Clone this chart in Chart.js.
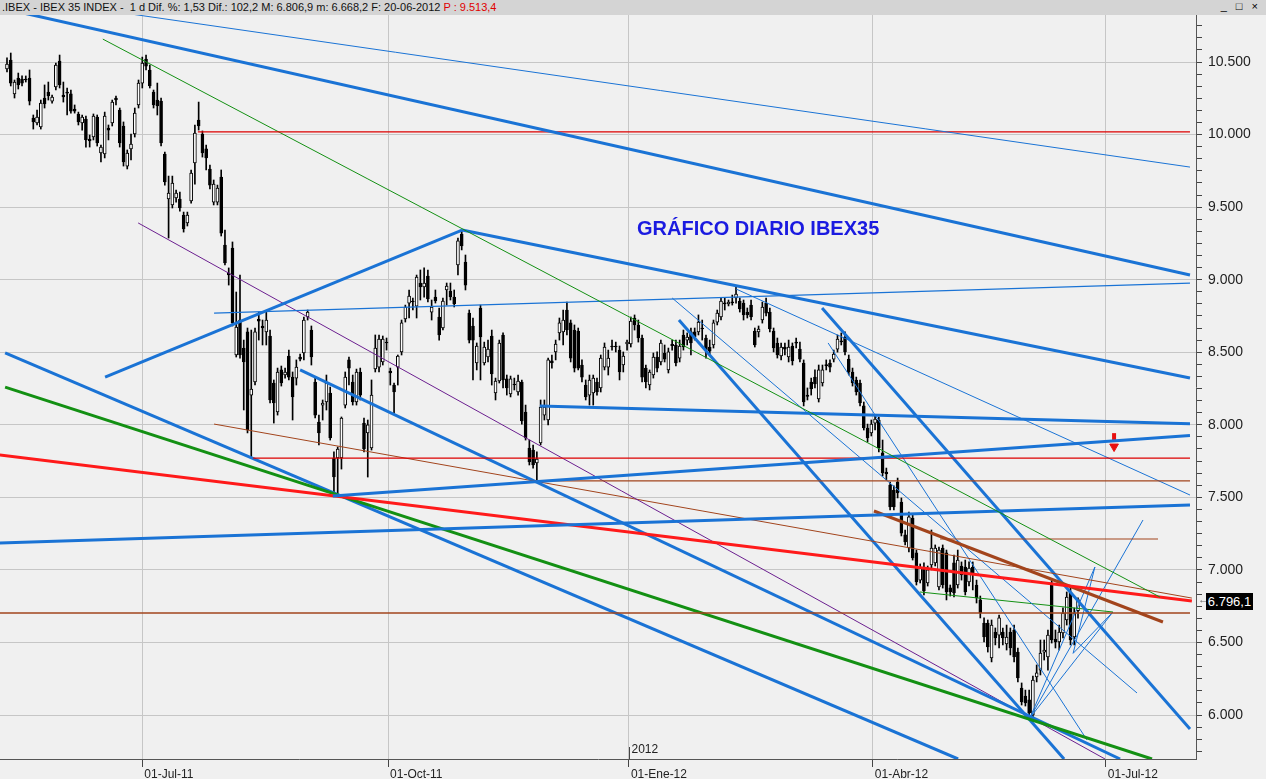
<!DOCTYPE html>
<html>
<head>
<meta charset="utf-8">
<script src="https://cdn.jsdelivr.net/npm/chart.js@4.4.1/dist/chart.umd.min.js"></script>
<style>
  html, body { margin: 0; padding: 0; background: #f0f0f0; }
  body { width: 1266px; height: 779px; position: relative; overflow: hidden; font-family: 'Liberation Sans', Arial, sans-serif; }
  #hdr { position: absolute; left: 0; top: 0; width: 1266px; height: 15px; background: #d4d4d4; font-size: 11px; line-height: 15px; color: #111; white-space: pre; padding-left: 2px; box-sizing: border-box; }
  #hdr .p { color: #e00000; }
  #btns { position: absolute; right: 5px; top: 0; font-size: 11px; line-height: 13px; color: #000; letter-spacing: 3px; }
  #wrap { position: absolute; left: 0; top: 15px; width: 1266px; height: 764px; }
  #titulo { position: absolute; left: 637px; top: 217px; font-weight: bold; font-size: 20px; color: #1a1ae0; }
  #precio { position: absolute; left: 1206px; top: 593px; width: 47px; height: 17px; background: #000; color: #fff; font-size: 13px; line-height: 17px; text-align: center; }
  #flecha { position: absolute; left: 1198px; top: 593px; font-size: 11px; color: #666; }
</style>
</head>
<body>
<div id="hdr">.IBEX - IBEX 35 INDEX -  1 d Dif. %: 1,53 Dif.: 102,2 M: 6.806,9 m: 6.668,2 F: 20-06-2012 <span class="p">P : 9.513,4</span></div>
<div id="btns">_ □ ×</div>
<div id="wrap"><canvas id="ibexChart" width="1266" height="764"></canvas></div>
<div id="titulo">GRÁFICO DIARIO IBEX35</div>
<div id="flecha">←</div>
<div id="precio">6.796,1</div>
<script>
// daily candles, 19-May-2011 .. 20-Jun-2012 (index = trading day)
const opens = [
  10452,10514,10280,10390,10383,10383,10390,10114,10080,10052,10252,10293,10231,10328,10507,10273,10293,10280,10176,10142,
  10080,10107,9969,9983,10121,9873,9866,10045,10080,10252,10169,10059,9783,9901,10004,10204,10355,10521,10445,10293,
  10238,10231,9866,9556,9515,9563,9556,9446,9391,9542,9804,10100,10004,9901,9763,9535,9535,9707,9239,9046,
  9218,8481,8722,8529,8640,8205,8295,8729,8681,8640,8612,8288,8088,8378,8343,8474,8329,8322,8467,8495,
  8743,8653,8295,8019,8136,8157,8219,7771,7771,7771,8136,8447,8295,8157,8364,8012,7944,7840,8385,8398,
  8433,8570,8370,8274,8398,8502,8729,8839,8853,8818,8977,8950,9025,8777,8880,8743,8667,8929,8922,8881,
  9101,9315,9122,8770,8681,8426,8805,8426,8467,8612,8219,8302,8619,8316,8212,8281,8226,8295,8088,7840,
  7826,7737,7875,8067,8033,8440,8502,8633,8640,8791,8702,8653,8646,8412,8274,8205,8219,8295,8254,8398,
  8398,8543,8543,8515,8412,8557,8557,8736,8688,8598,8391,8274,8343,8467,8433,8495,8378,8555,8550,8460,
  8619,8584,8640,8640,8640,8667,8598,8536,8550,8708,8743,8839,8833,8846,8874,8853,8839,8777,8825,8646,
  8640,8722,8839,8777,8646,8564,8474,8536,8467,8543,8570,8522,8426,8205,8295,8329,8178,8288,8415,8426,
  8453,8522,8578,8605,8453,8364,8309,8288,8130,7978,7944,8012,8033,7806,7675,7585,7551,7606,7468,7241,
  7151,7358,7117,6930,7020,6910,7034,7048,6882,7151,7117,6876,7048,6896,7027,7020,6917,7020,6896,6793,
  6634,6634,6393,6572,6551,6572,6490,6572,6586,6434,6186,6131,6104,6000,6262,6310,6434,6400,6910,6524,
  6503,6565,6655,6848,6538,6720
];
const highs = [
  10528,10562,10376,10424,10404,10404,10445,10135,10169,10238,10342,10362,10273,10493,10548,10362,10321,10307,10204,10155,
  10135,10128,9997,10142,10135,9928,10155,10066,10238,10266,10183,10087,9894,10004,10183,10376,10534,10548,10479,10307,
  10355,10252,9880,9714,9714,9618,9604,9466,9466,9756,10066,10224,10025,9928,9790,9687,9652,9756,9342,9081,
  9260,8915,9032,8584,8667,8653,8667,8777,8722,8777,8653,8309,8391,8405,8391,8515,8364,8447,8488,8743,
  8791,8681,8322,8067,8171,8343,8260,7813,7847,8054,8364,8467,8343,8384,8391,8047,8033,8309,8619,8619,
  8612,8598,8391,8288,8481,8722,8825,8929,8874,9032,9067,9081,9067,8860,8929,8805,8874,8977,8977,8929,
  9287,9342,9170,8791,8736,8564,8825,8570,8584,8653,8322,8584,8633,8343,8336,8322,8343,8309,8136,7895,
  7861,7813,8171,8171,8460,8481,8584,8736,8791,8846,8722,8688,8667,8447,8309,8343,8343,8322,8481,8564,
  8515,8584,8570,8543,8502,8584,8743,8757,8722,8619,8412,8378,8495,8502,8584,8550,8529,8584,8584,8584,
  8653,8633,8667,8667,8757,8722,8619,8584,8722,8791,8874,8874,8860,8894,8950,8874,8860,8805,8860,8667,
  8681,8846,8874,8805,8667,8598,8564,8564,8584,8564,8598,8570,8447,8254,8322,8378,8412,8412,8447,8447,
  8515,8619,8633,8640,8481,8391,8329,8309,8157,8005,8033,8067,8054,7895,7702,7606,7579,7633,7496,7275,
  7399,7385,7137,7041,7048,7027,7275,7172,7158,7172,7137,6896,7103,7137,7055,7068,7055,7055,6930,6820,
  6669,6655,6655,6600,6689,6600,6620,6600,6620,6462,6221,6172,6172,6269,6345,6517,6517,6586,6930,6586,
  6620,6738,6848,6875,6738,6807
];
const lows = [
  10431,10335,10252,10314,10335,10362,10204,10038,10066,10038,10183,10238,10217,10307,10321,10224,10135,10148,10148,10066,
  10031,9914,9914,9963,9921,9811,9839,9963,10059,10204,9914,9783,9763,9825,9983,10183,10321,10445,10321,10183,
  10135,9921,9652,9287,9494,9535,9473,9328,9370,9528,9659,10031,9845,9756,9625,9515,9515,9301,9101,8963,
  8681,8467,8460,8102,7944,7771,8274,8584,8550,8550,8150,8012,8067,8267,8322,8309,8033,8274,8440,8447,
  8722,8412,8047,7861,8033,8102,7895,7530,7523,7695,8116,8274,8136,8136,8171,7813,7640,7826,8364,8364,
  8412,8515,8274,8081,8274,8481,8708,8736,8791,8736,8860,8880,8846,8722,8839,8584,8653,8825,8860,8812,
  9032,9205,8929,8564,8309,8378,8309,8412,8433,8274,8171,8288,8254,8205,8192,8240,8205,8005,7895,7723,
  7702,7620,7861,8033,7999,8391,8447,8584,8550,8619,8433,8364,8378,8295,8171,8136,8136,8205,8226,8378,
  8343,8515,8502,8309,8364,8515,8536,8653,8570,8295,8254,8240,8322,8364,8412,8433,8357,8515,8405,8433,
  8515,8550,8481,8584,8619,8584,8460,8481,8529,8688,8722,8791,8819,8825,8839,8777,8722,8736,8722,8536,
  8605,8701,8750,8640,8502,8460,8447,8481,8433,8412,8529,8433,8130,8171,8205,8254,8157,8267,8378,8364,
  8433,8501,8550,8481,8343,8267,8205,8130,7964,7882,7923,7964,7813,7647,7620,7413,7413,7496,7234,7172,
  7124,7068,6896,6910,6827,6889,7000,7027,6862,6875,6793,6820,6814,6875,6930,6827,6889,6862,6772,6669,
  6503,6434,6366,6483,6462,6483,6448,6414,6366,6228,6069,6062,5994,5980,6228,6276,6379,6310,6496,6462,
  6448,6531,6620,6483,6483,6668
];
const closes = [
  10486,10355,10362,10342,10355,10376,10231,10087,10121,10217,10211,10266,10259,10479,10342,10259,10286,10162,10162,10087,
  10121,9963,9956,10128,9942,9914,10128,10031,10224,10238,9942,9811,9873,9935,10148,10355,10493,10472,10335,10204,
  10197,9942,9673,9597,9666,9597,9494,9349,9446,9735,10011,10059,9873,9839,9652,9659,9632,9321,9115,9032,
  8702,8674,8481,8433,7964,8247,8640,8715,8667,8722,8171,8150,8364,8288,8364,8329,8192,8398,8453,8722,
  8777,8467,8067,7944,8150,8288,7909,7640,7833,8047,8329,8391,8157,8364,8205,7833,7999,8205,8529,8591,
  8591,8564,8357,8226,8474,8702,8812,8887,8846,9018,8950,8977,8867,8812,8853,8619,8853,8956,8881,8833,
  9267,9232,8963,8584,8584,8543,8605,8536,8522,8350,8302,8564,8309,8254,8316,8274,8302,8026,7909,7744,
  7723,7764,8122,8122,8447,8426,8557,8702,8722,8653,8460,8391,8391,8329,8192,8309,8322,8226,8460,8536,
  8460,8536,8536,8364,8474,8570,8715,8688,8598,8329,8295,8364,8467,8391,8564,8453,8502,8545,8426,8543,
  8536,8605,8564,8605,8708,8660,8515,8508,8702,8770,8853,8833,8846,8840,8901,8798,8757,8757,8743,8550,
  8660,8812,8770,8660,8529,8481,8536,8522,8536,8440,8563,8453,8157,8195,8247,8281,8378,8378,8405,8398,
  8488,8591,8571,8502,8364,8288,8226,8150,7978,7909,8005,8040,7840,7668,7661,7434,7434,7530,7254,7193,
  7365,7082,6917,7013,6855,7000,7151,7151,7137,6896,6848,6848,6841,7068,6965,6848,7013,6965,6807,6703,
  6538,6469,6620,6531,6669,6531,6538,6462,6400,6255,6090,6083,6014,6241,6290,6427,6448,6551,6517,6503,
  6572,6703,6813,6517,6703,6796
];

// date ticks (trading-day index) and their labels
const dateTicks = [36, 101.4, 165.5, 230.4, 292.4];
const dateLabels = ['01-Jul-11', '01-Oct-11', '01-Ene-12', '01-Abr-12', '01-Jul-12'];
const yearTick = 165.5;
const yearLabel = '2012';

// price levels labelled on the axis
const priceLevels = [6000, 6500, 7000, 7500, 8000, 8500, 9000, 9500, 10000, 10500];

// drawn studies: [index1, price1, index2, price2]
const trendLines = [
  [0, 10863, 314.8, 9032],
  [30, 10842, 314.8, 9776],
  [50.8, 10018, 314.8, 10018],
  [25.5, 10658, 306.8, 6813],
  [26.1, 8329, 121.1, 9342],
  [121.1, 9342, 314.8, 8322],
  [55.1, 8770, 314.8, 8977],
  [141.8, 8130, 314.8, 8008],
  [86.7, 7509, 314.8, 7926],
  [-1.9, 7185, 314.8, 7447],
  [65.5, 7771, 314.8, 7771],
  [139.2, 7613, 314.8, 7613],
  [-1.9, 6703, 314.8, 6703],
  [248.3, 7213, 306.3, 7213],
  [-1.9, 7792, 315.3, 6786],
  [-0.5, 8260, 304.7, 5697],
  [-0.5, 8495, 253.1, 5697],
  [78.0, 8378, 296.2, 5697],
  [34.9, 9391, 292.2, 5697],
  [55.1, 8005, 315.3, 6806],
  [230.7, 7406, 307.6, 6641],
  [178.8, 8722, 281.3, 5697],
  [216.9, 8805, 314.8, 5904],
  [194.0, 8936, 314.8, 7516],
  [177.0, 8874, 300.7, 6152],
  [218.5, 8564, 287.4, 5828],
  [242.9, 6848, 294.3, 6710],
  [272.2, 5980, 302.3, 7344],
  [272.2, 5980, 289.5, 7020],
  [272.2, 5980, 294.3, 6710],
  [283.7, 6425, 289.5, 7020],
  [283.7, 6425, 294.3, 6710]
];
const BLUE = '#1a73d5', RED = '#ff1a1a', RED_T = '#dd0000', GREEN = '#139013', BROWN = '#a2441c', PURPLE = '#6b1f8f';
const trendStyle = [
  [BLUE, 3], [BLUE, 1], [RED_T, 1.2], [GREEN, 1], [BLUE, 3], [BLUE, 3], [BLUE, 1.3], [BLUE, 3],
  [BLUE, 3], [BLUE, 3], [RED_T, 1.2], [BROWN, 1.2], [BROWN, 1.3], [BROWN, 1.2], [RED, 3], [GREEN, 3],
  [BLUE, 3], [BLUE, 3], [PURPLE, 1], [BROWN, 1], [BROWN, 3], [BLUE, 3], [BLUE, 3], [BLUE, 1],
  [BLUE, 1], [BLUE, 1], [GREEN, 1], [BLUE, 1], [BLUE, 1], [BLUE, 1], [BLUE, 1], [BLUE, 1]
];

// red arrow marker
const markerTip = [294.6, 7850];
const markerStem = [294.6, 7915];

const isMajor = v => Math.abs(v / 500 - Math.round(v / 500)) < 1e-6;
const fmt = v => String(Math.round(v)).replace(/\B(?=(\d{3})+(?!\d))/g, '.');

const idx = closes.map((_, i) => i);

const lineSets = trendLines.map((t, k) => ({
  type: 'line',
  data: [{x: t[0], y: t[1]}, {x: t[2], y: t[3]}],
  borderColor: trendStyle[k][0],
  borderWidth: trendStyle[k][1],
  pointRadius: 0,
  fill: false,
  tension: 0,
  order: 0,
}));

const yearMark = {
  id: 'yearMark',
  afterDraw(chart) {
    const {ctx, chartArea, scales: {x}} = chart;
    const px = Math.round(x.getPixelForValue(yearTick)) + 0.5;
    ctx.save();
    ctx.strokeStyle = '#444';
    ctx.lineWidth = 1;
    ctx.beginPath();
    ctx.moveTo(px, chartArea.bottom);
    ctx.lineTo(px, chartArea.bottom - 12);
    ctx.stroke();
    ctx.fillStyle = '#222';
    ctx.font = "12px 'Liberation Sans', Arial";
    ctx.textBaseline = 'bottom';
    ctx.fillText(yearLabel, px + 2, chartArea.bottom - 3);
    ctx.restore();
  }
};

const ctx = document.getElementById('ibexChart').getContext('2d');
new Chart(ctx, {
  type: 'bar',
  data: {
    datasets: [
      ...lineSets,
      {
        type: 'scatter',
        data: [{x: markerTip[0], y: markerTip[1]}],
        pointStyle: 'triangle', rotation: 180, radius: 5,
        backgroundColor: '#e81010', borderColor: '#e81010', borderWidth: 1, order: 0,
      },
      {
        type: 'scatter',
        data: [{x: markerStem[0], y: markerStem[1]}],
        pointStyle: 'line', rotation: 90, radius: 4,
        borderColor: '#e81010', borderWidth: 4, order: 0,
      },
      {
        type: 'bar',
        data: idx.map(i => ({x: i, y: [opens[i], closes[i]]})),
        backgroundColor: idx.map(i => closes[i] >= opens[i] ? '#ffffff' : '#000000'),
        borderColor: '#000000',
        borderWidth: 1,
        borderSkipped: false,
        barThickness: 3,
        minBarLength: 1,
        grouped: false,
        order: 1,
      },
      {
        type: 'bar',
        data: idx.map(i => ({x: i, y: [lows[i], highs[i]]})),
        backgroundColor: '#000000',
        borderWidth: 0,
        barThickness: 1,
        grouped: false,
        order: 2,
      }
    ]
  },
  options: {
    responsive: false,
    maintainAspectRatio: false,
    animation: false,
    events: [],
    layout: { padding: 0, autoPadding: false },
    plugins: {
      legend: { display: false },
      tooltip: { enabled: false }
    },
    scales: {
      x: {
        type: 'linear',
        min: -1.863,
        max: 316.4,
        offset: false,
        afterBuildTicks: s => { s.ticks = dateTicks.map(v => ({value: v})); },
        afterFit: s => { s.height = 20; s.paddingLeft = 0; s.paddingRight = 0; },
        grid: {
          offset: false,
          color: '#c6c6c6',
          borderDash: [5, 4],
          tickBorderDash: [],
          tickColor: '#444',
          tickLength: 8,
        },
        border: { display: true, color: '#555', width: 1 },
        ticks: {
          autoSkip: false,
          maxRotation: 0,
          align: 'start',
          labelOffset: 2,
          padding: 0,
          color: '#222',
          font: { family: "'Liberation Sans', Arial", size: 12 },
          callback: (v, i) => dateLabels[i],
        }
      },
      y: {
        position: 'right',
        min: 5697,
        max: 10824,
        beginAtZero: false,
        afterBuildTicks: s => {
          const t = [];
          for (let v = 5750; v <= 10824; v += 500 / 6) t.push({value: v});
          s.ticks = t;
        },
        afterFit: s => { s.width = 70; s.paddingTop = 0; s.paddingBottom = 0; },
        grid: {
          color: c => (c.tick && isMajor(c.tick.value)) ? '#c6c6c6' : 'rgba(0,0,0,0)',
          borderDash: [5, 4],
          tickBorderDash: [],
          tickColor: '#444',
          tickLength: 6,
        },
        border: { display: true, color: '#555', width: 1 },
        ticks: {
          autoSkip: false,
          padding: 6,
          color: '#222',
          font: { family: "'Liberation Sans', Arial", size: 14 },
          callback: v => isMajor(v) ? fmt(v) : '',
        }
      }
    }
  },
  plugins: [yearMark]
});
</script>
</body>
</html>
